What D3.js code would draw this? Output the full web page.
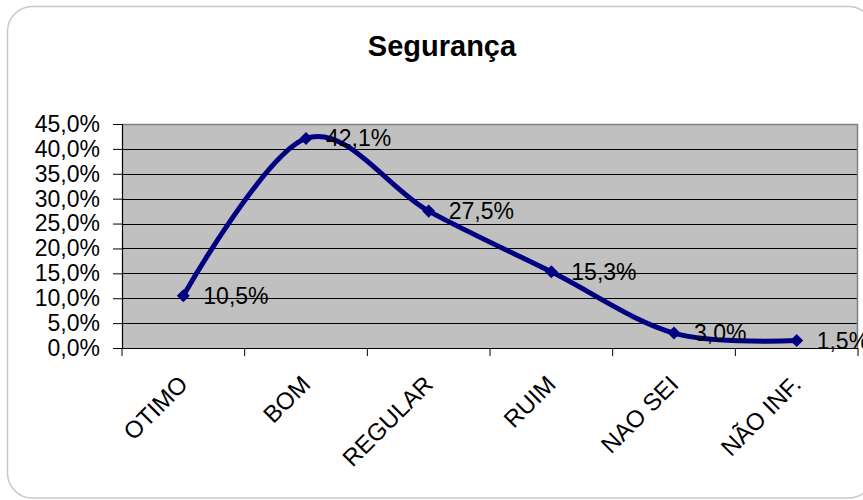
<!DOCTYPE html>
<html>
<head>
<meta charset="utf-8">
<script src="https://cdn.jsdelivr.net/npm/d3@7"></script>
<style>
  html, body { margin: 0; padding: 0; background: #fff; }
  svg { display: block; font-family: "Liberation Sans", Arial, sans-serif; }
</style>
</head>
<body>
<svg id="chart" width="863" height="500"></svg>
<script>
const title = "Segurança";
const categories = ["OTIMO", "BOM", "REGULAR", "RUIM", "NAO SEI", "NÃO INF."];
const values = [10.5, 42.1, 27.5, 15.3, 3.0, 1.5];
const yTicks = [0, 5, 10, 15, 20, 25, 30, 35, 40, 45];

const svg = d3.select("#chart");
const plot = { left: 122, right: 858, top: 124, bottom: 348 };
const fmt = v => v.toFixed(1).replace(".", ",") + "%";

// outer rounded border
svg.append("rect")
  .attr("x", 7.5).attr("y", 6.5)
  .attr("width", 866).attr("height", 491.5)
  .attr("rx", 25).attr("ry", 25)
  .attr("fill", "#fff").attr("stroke", "#c8c8c8").attr("stroke-width", 1.5);

// title
svg.append("text")
  .attr("x", 442).attr("y", 56)
  .attr("text-anchor", "middle")
  .attr("font-weight", "bold")
  .attr("font-size", 29)
  .text(title);

const x = d3.scaleBand().domain(categories).range([plot.left, plot.right]).padding(0);
const y = d3.scaleLinear().domain([0, 45]).range([plot.bottom, plot.top]);

// plot background
svg.append("rect")
  .attr("x", plot.left).attr("y", plot.top)
  .attr("width", plot.right - plot.left).attr("height", plot.bottom - plot.top)
  .attr("fill", "#c0c0c0");

// gridlines
svg.append("g").selectAll("line")
  .data(yTicks.filter(t => t > 0 && t < 45))
  .join("line")
  .attr("x1", plot.left).attr("x2", plot.right)
  .attr("y1", d => Math.round(y(d)) + 0.5).attr("y2", d => Math.round(y(d)) + 0.5)
  .attr("stroke", "#000").attr("stroke-width", 1);

// top/right gray border
svg.append("path")
  .attr("d", `M${plot.left},${plot.top + 0.5}H${plot.right - 0.5}V${plot.bottom}`)
  .attr("fill", "none").attr("stroke", "#808080").attr("stroke-width", 1.5);

// y axis
const yAxis = d3.axisLeft(y).tickValues(yTicks).tickSize(9).tickPadding(13)
  .tickFormat(fmt);
const gy = svg.append("g").attr("transform", `translate(${plot.left},0)`).call(yAxis);
gy.select(".domain").attr("stroke", "#000").attr("stroke-width", 1.2);
gy.selectAll(".tick line").attr("stroke", "#000");
gy.selectAll(".tick text").attr("font-size", 23).attr("fill", "#000")
  .attr("font-family", "'Liberation Sans', Arial, sans-serif");

// x axis: ticks at band boundaries
const boundaries = categories.map(c => x(c)).concat([plot.right]);
svg.append("line")
  .attr("x1", plot.left).attr("x2", plot.right)
  .attr("y1", plot.bottom + 0.5).attr("y2", plot.bottom + 0.5)
  .attr("stroke", "#000").attr("stroke-width", 1.2);
svg.append("g").selectAll("line").data(boundaries).join("line")
  .attr("x1", d => d).attr("x2", d => d)
  .attr("y1", plot.bottom).attr("y2", plot.bottom + 8)
  .attr("stroke", "#000");

// x labels rotated
svg.append("g").selectAll("text").data(categories).join("text")
  .attr("transform", d => `translate(${x(d) + x.bandwidth() / 2 - 6},${plot.bottom + 26}) rotate(-45)`)
  .attr("text-anchor", "end")
  .attr("dy", "0.7em")
  .attr("font-size", 24)
  .text(d => d);

// smoothed line
const cx = (d, i) => x(categories[i]) + x.bandwidth() / 2;
const line = d3.line().x((d, i) => cx(d, i)).y(d => y(d)).curve(d3.curveCardinal.tension(0));
svg.append("path")
  .datum(values)
  .attr("d", line)
  .attr("fill", "none")
  .attr("stroke", "#000080")
  .attr("stroke-width", 5)
  .attr("stroke-linejoin", "round");

// markers
const sym = d3.symbol().type(d3.symbolSquare).size(85);
svg.append("g").selectAll("path").data(values).join("path")
  .attr("d", sym)
  .attr("transform", (d, i) => `translate(${cx(d, i)},${y(d)}) rotate(45)`)
  .attr("fill", "#000080");

// data labels
svg.append("g").selectAll("text").data(values).join("text")
  .attr("x", (d, i) => cx(d, i) + 20)
  .attr("y", d => y(d))
  .attr("dy", "0.35em")
  .attr("font-size", 23)
  .text(d => fmt(d));
</script>
</body>
</html>
